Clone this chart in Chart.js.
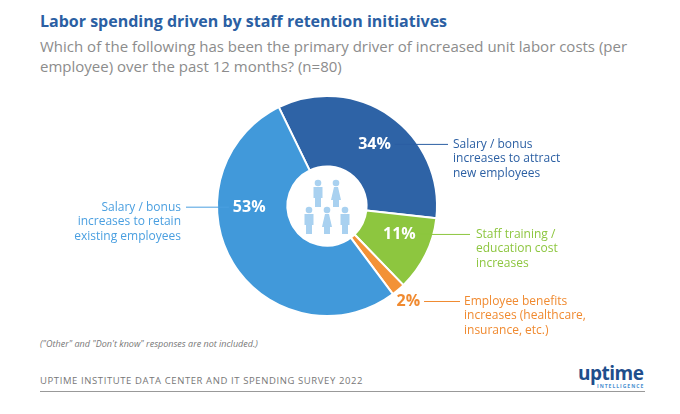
<!DOCTYPE html>
<html><head><meta charset="utf-8">
<script src="https://cdn.jsdelivr.net/npm/chart.js@4/dist/chart.umd.min.js"></script>
<style>
body{margin:0;width:680px;height:414px;background:#fff;font-family:"Open Sans",sans-serif;position:relative;overflow:hidden}
.t{position:absolute;left:40px;top:10px;color:#2b5fa3;font-size:16px;font-weight:700}
.s{position:absolute;left:40px;top:36px;width:620px;color:#8c8c8c;font-size:15px;line-height:20px}
.n{position:absolute;left:40px;top:337px;color:#777;font-size:9px;font-style:italic}
.f{position:absolute;left:40px;top:374px;color:#777;font-size:9.5px;letter-spacing:0.6px}
.ln{position:absolute;left:40px;top:391px;width:605px;height:1px;background:#999}
.lg{position:absolute;left:578px;top:360px;color:#1f4e8c;font-size:19px;font-weight:700;letter-spacing:-0.5px}
.lg2{position:absolute;left:597px;top:383px;color:#4a8fd0;font-size:5px;font-weight:700;letter-spacing:1px}
canvas{position:absolute;left:0;top:0}
</style></head><body>
<div class="t">Labor spending driven by staff retention initiatives</div>
<div class="s">Which of the following has been the primary driver of increased unit labor costs (per employee) over the past 12 months? (n=80)</div>
<div class="n">("Other" and "Don't know" responses are not included.)</div>
<div class="f">UPTIME INSTITUTE DATA CENTER AND IT SPENDING SURVEY 2022</div>
<div class="ln"></div>
<div class="lg">uptime</div><div class="lg2">INTELLIGENCE</div>
<div style="position:absolute;left:0;top:0;width:680px;height:414px"><canvas id="c"></canvas></div>
<script>
const categories = [
  ["Salary / bonus", "increases to attract", "new employees"],
  ["Staff training /", "education cost", "increases"],
  ["Employee benefits", "increases (healthcare,", "insurance, etc.)"],
  ["Salary / bonus", "increases to retain", "existing employees"]
];
const values = [34, 11, 2, 53];
const colors = ["#2e63a6", "#8dc63f", "#f39237", "#4199da"];
const textColors = ["#2b5fa3", "#8dc63f", "#f08a30", "#4a9fe0"];

// where each text label sits: [lineEndX, textX, align, fraction along arc]
const labelLayout = [[448, 453, "left", 0.52], [470, 476, "left", 0.38], [460, 464, "left", 0.5], [186, 181, "right", 0.66]];

const labelsPlugin = {
  id: "labels",
  afterDraw(chart) {
    const ctx = chart.ctx;
    const meta = chart.getDatasetMeta(0);
    ctx.save();
    meta.data.forEach((arc, i) => {
      const [endX, tx, align, frac] = labelLayout[i];
      const mid = arc.startAngle + (arc.endAngle - arc.startAngle) * frac;
      const small = values[i] < 5;
      const r = small ? arc.outerRadius * 1.14 : (arc.innerRadius + arc.outerRadius) / 2 + 3;
      const x = arc.x + Math.cos(mid) * r;
      const y = arc.y + Math.sin(mid) * r;
      ctx.font = "700 16px 'Open Sans'";
      ctx.fillStyle = small ? textColors[i] : "#fff";
      ctx.textAlign = "center"; ctx.textBaseline = "middle";
      ctx.fillText(values[i] + "%", x, y);
      const w = ctx.measureText(values[i] + "%").width;
      ctx.strokeStyle = textColors[i]; ctx.lineWidth = 1;
      ctx.beginPath();
      if (align === "left") { ctx.moveTo(x + w / 2 + 4, y); ctx.lineTo(endX, y); }
      else { ctx.moveTo(x - w / 2 - 4, y); ctx.lineTo(endX, y); }
      ctx.stroke();
      ctx.font = "12px 'Open Sans'";
      ctx.fillStyle = textColors[i]; ctx.textAlign = align;
      categories[i].forEach((t, k) => ctx.fillText(t, tx, y + k * 14.5));
    });
    // people icon in the centre
    const cx = meta.data[0].x, cy = meta.data[0].y;
    ctx.fillStyle = "#a9d1f0";
    const person = (px, py, female) => {
      ctx.beginPath(); ctx.arc(px, py - 13, 3.3, 0, Math.PI * 2); ctx.fill();
      if (female) {
        ctx.beginPath(); ctx.moveTo(px - 2, py - 9); ctx.lineTo(px + 2, py - 9);
        ctx.lineTo(px + 5, py + 4); ctx.lineTo(px - 5, py + 4); ctx.fill();
        ctx.fillRect(px - 3, py + 4, 6, 7);
      } else {
        ctx.fillRect(px - 4.5, py - 9, 9, 11);
        ctx.fillRect(px - 3, py + 2, 6, 9);
      }
    };
    person(cx - 9, cy - 10, false); person(cx + 9, cy - 10, true);
    person(cx - 18, cy + 17, false); person(cx, cy + 17, true); person(cx + 18, cy + 17, false);
    ctx.restore();
  }
};

new Chart(document.getElementById("c"), {
  type: "doughnut",
  data: {
    labels: categories.map(c => c.join(" ")),
    datasets: [{ data: values, backgroundColor: colors, borderColor: "#fff", borderWidth: 2, hoverOffset: 0 }]
  },
  options: {
    responsive: true, maintainAspectRatio: false, animation: false,
    rotation: -26, cutout: "36%",
    layout: { padding: { left: 216, right: 242, top: 95, bottom: 97 } },
    plugins: { legend: { display: false }, tooltip: { enabled: false } }
  },
  plugins: [labelsPlugin]
});
</script>
</body></html>
